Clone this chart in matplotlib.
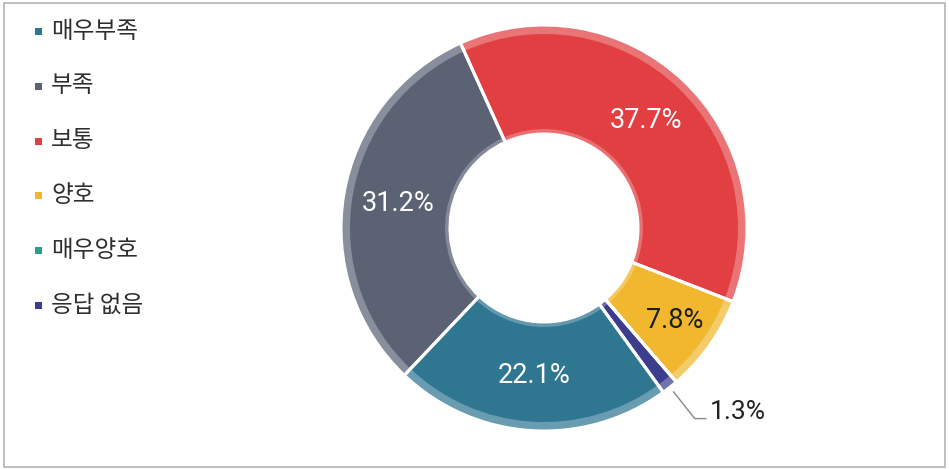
import matplotlib
matplotlib.use("Agg")
import matplotlib.pyplot as plt
import numpy as np
from matplotlib.patches import Rectangle
from matplotlib.colors import to_rgb

# Survey response shares (%)
categories = ["매우부족", "부족", "보통", "양호", "매우양호", "응답 없음"]
shares = [22.1, 31.2, 37.7, 7.8, 0.0, 1.3]

colors = ["#2f7691", "#5a6274", "#e23f42", "#f0b72f", "#2a9d8f", "#3d3d8e"]
text_colors = ["white", "white", "white", "#1e1e1e", None, "#222222"]
label_radius = [148, 148, 148, 160, None, None]

W, H = 949, 469
fig = plt.figure(figsize=(W / 100, H / 100), dpi=100)
ax = fig.add_axes([0, 0, 1, 1])

cx, cy = 544, H - 228
r_out, r_in = 203, 94


def lighten(c, a):
    r, g, b = to_rgb(c)
    return (r + (1 - r) * a, g + (1 - g) * a, b + (1 - b) * a)


pie_kw = dict(center=(cx, cy), startangle=-54, counterclock=False)

# main ring
wedges, _ = ax.pie(shares, radius=r_out, colors=colors,
                   wedgeprops=dict(width=r_out - r_in, linewidth=0), **pie_kw)
# lighter outer rim
ax.pie(shares, radius=r_out, colors=[lighten(c, 0.28) for c in colors],
       wedgeprops=dict(width=9, linewidth=0), **pie_kw)
# lighter inner rim
ax.pie(shares, radius=r_in + 5, colors=[lighten(c, 0.25) for c in colors],
       wedgeprops=dict(width=5, linewidth=0), **pie_kw)
# white separators between slices
ax.pie(shares, radius=r_out, colors=["none"] * len(shares),
       wedgeprops=dict(width=r_out - r_in, edgecolor="white", linewidth=2.2),
       **pie_kw)

# value labels
num_font = ["Roboto", "DejaVu Sans"]
for w, v, tc, rl in zip(wedges, shares, text_colors, label_radius):
    if v <= 0:
        continue
    mid = np.deg2rad((w.theta1 + w.theta2) / 2)
    txt = f"{v:.1f}%"
    if rl is not None:
        ax.text(cx + rl * np.cos(mid), cy + rl * np.sin(mid), txt,
                ha="center", va="center", color=tc, fontsize=19.5,
                family=num_font)
    else:
        x0, y0 = cx + 209 * np.cos(mid), cy + 209 * np.sin(mid)
        x1, y1 = cx + 243 * np.cos(mid), cy + 243 * np.sin(mid)
        ax.plot([x0, x1, x1 + 11], [y0, y1, y1], color="#888888", lw=1)
        ax.text(x1 + 15, y1 + 7, txt, ha="left", va="center", color=tc,
                fontsize=19, family=num_font)

# legend
for i, (cat, col) in enumerate(zip(categories, colors)):
    yc = H - (31 + i * 54.8)
    ax.add_patch(Rectangle((35, yc - 4), 7, 7, facecolor=col, edgecolor="none"))
    ax.text(51, yc, cat, ha="left", va="center", fontsize=17, color="#2e2e2e",
            fontweight="medium", family=["Noto Sans CJK KR", "DejaVu Sans"])

# outer frame
ax.add_patch(Rectangle((4, H - 467), 941, 464, facecolor="none",
                       edgecolor="#b4b4b4", linewidth=1.2))

ax.set_xlim(0, W)
ax.set_ylim(0, H)
ax.set_aspect("equal")
ax.axis("off")

fig.savefig("out.png", dpi=100)
